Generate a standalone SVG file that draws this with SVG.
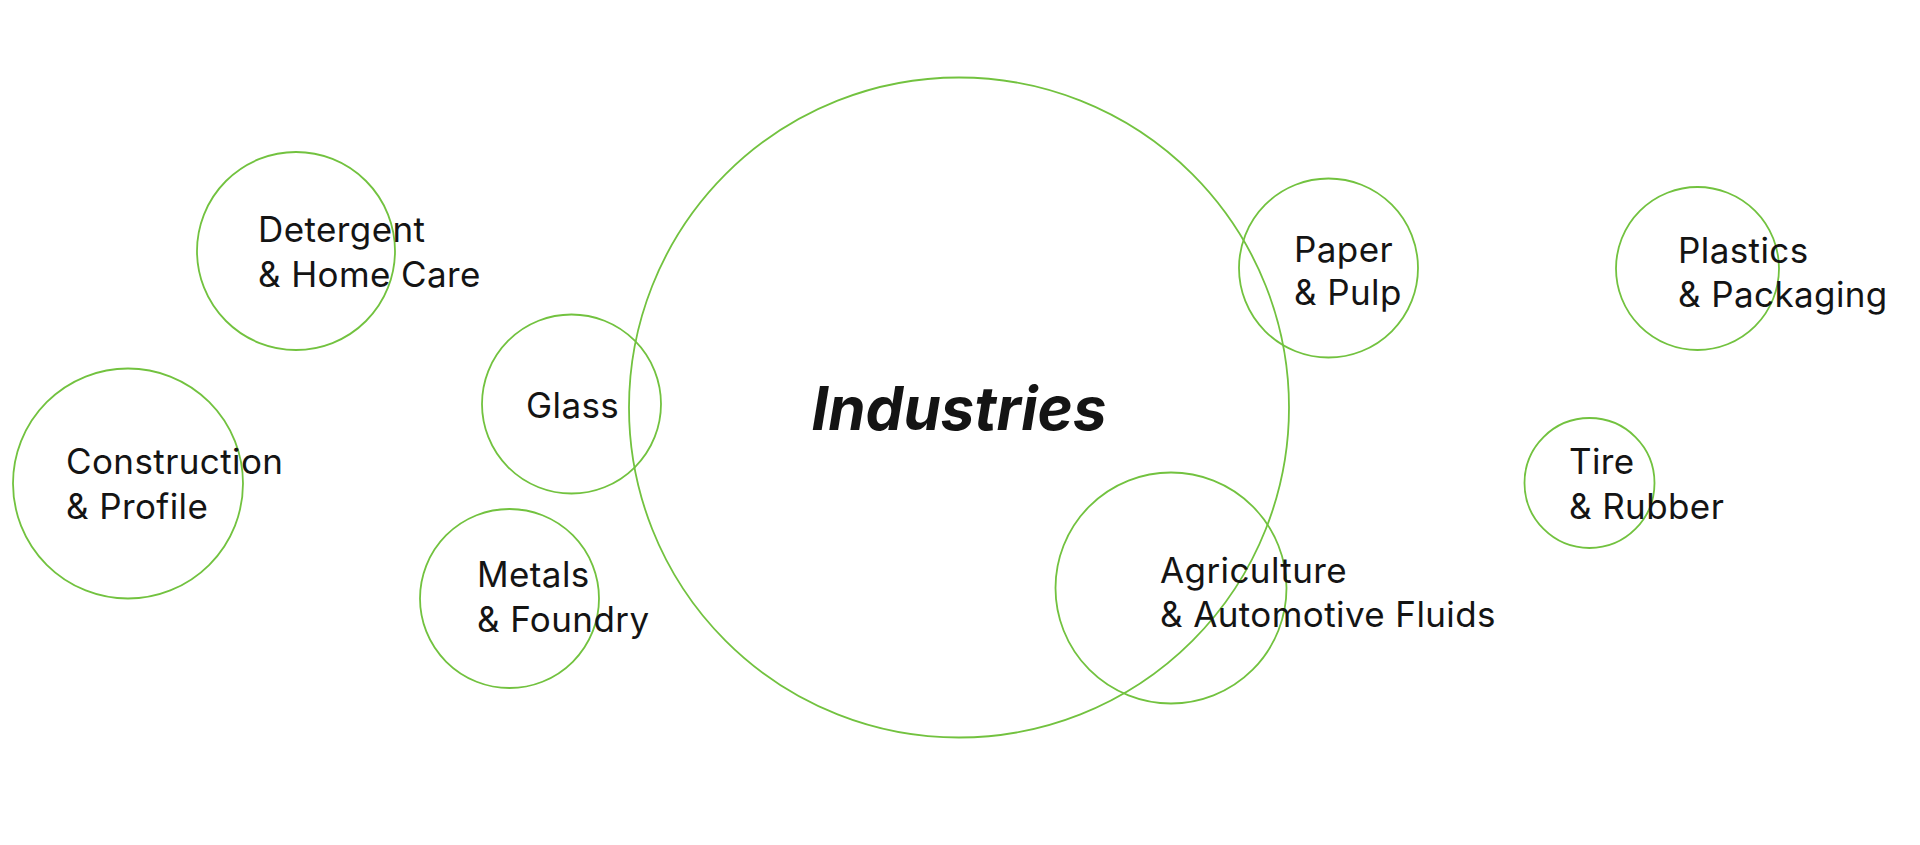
<svg xmlns="http://www.w3.org/2000/svg" width="1920" height="845" viewBox="0 0 1920 845">
<style>
.c{fill:none;stroke:#72c23f;stroke-width:1.8}
.t{font-family:Inter,"Noto Sans","Liberation Sans",sans-serif;font-size:35px;letter-spacing:0.4px;fill:#141414}
.h{font-family:Inter,"Noto Sans","Liberation Sans",sans-serif;font-size:60px;font-weight:700;font-style:italic;fill:#141414}
</style>
<rect width="1920" height="845" fill="#ffffff"/>
<g id="connectors"/>
<g id="industries"><circle class="c" cx="959" cy="407.5" r="330"/><text class="h" x="959" y="430" text-anchor="middle">Industries</text></g>
<g id="detergent"><circle class="c" cx="296" cy="251" r="99"/><text class="t" x="258" y="242">Detergent</text><text class="t" x="258" y="287">&amp; Home Care</text></g>
<g id="construction"><circle class="c" cx="128" cy="483.5" r="115"/><text class="t" x="66" y="474">Construction</text><text class="t" x="66" y="518.5">&amp; Profile</text></g>
<g id="glass"><circle class="c" cx="571.5" cy="404" r="89.5"/><text class="t" x="526" y="418">Glass</text></g>
<g id="metals"><circle class="c" cx="509.5" cy="598.5" r="89.5"/><text class="t" x="477" y="587">Metals</text><text class="t" x="477" y="632">&amp; Foundry</text></g>
<g id="paper"><circle class="c" cx="1328.5" cy="268" r="89.5"/><text class="t" x="1294" y="262">Paper</text><text class="t" x="1294" y="305">&amp; Pulp</text></g>
<g id="agriculture"><circle class="c" cx="1171" cy="588" r="115.5"/><text class="t" x="1160" y="583">Agriculture</text><text class="t" x="1160" y="627">&amp; Automotive Fluids</text></g>
<g id="plastics"><circle class="c" cx="1697.5" cy="268.5" r="81.5"/><text class="t" x="1678" y="263">Plastics</text><text class="t" x="1678" y="307">&amp; Packaging</text></g>
<g id="tire"><circle class="c" cx="1589.5" cy="483" r="65"/><text class="t" x="1569" y="474">Tire</text><text class="t" x="1569" y="518.5">&amp; Rubber</text></g>
</svg>
